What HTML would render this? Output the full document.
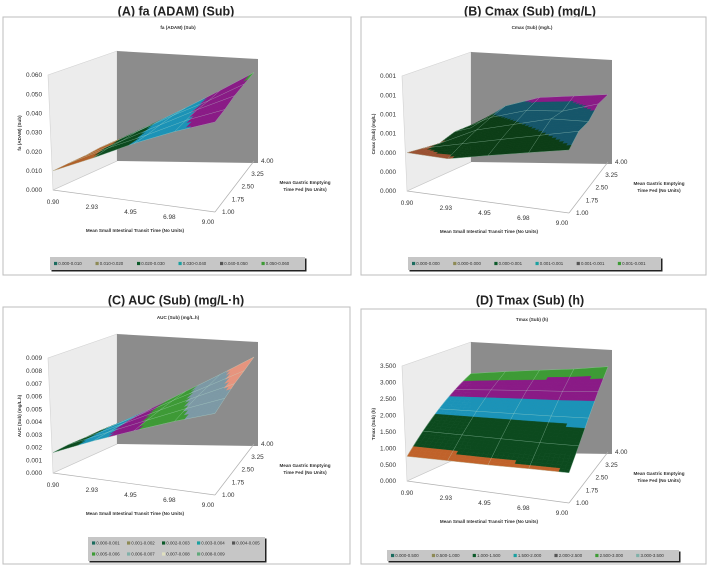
<!DOCTYPE html>
<html><head><meta charset="utf-8"><style>
html,body{margin:0;padding:0;background:#fff;}
svg{display:block;font-family:"Liberation Sans",sans-serif;}
</style></head><body>
<svg id="root" width="709" height="568" viewBox="0 0 709 568" xmlns="http://www.w3.org/2000/svg"></svg>
<script>
const xCats=[0.9,2.93,4.95,6.98,9.0];
const yCats=[1.00,1.75,2.50,3.25,4.00];
const xLabels=['0.90','2.93','4.95','6.98','9.00'];
const yLabels=['1.00','1.75','2.50','3.25','4.00'];
// rows by gastric emptying time (1.00 .. 4.00), columns by SITT
const faValues=[
 [0.010,0.020,0.031,0.041,0.050],
 [0.011,0.022,0.032,0.043,0.052],
 [0.012,0.023,0.034,0.045,0.055],
 [0.014,0.025,0.036,0.046,0.057],
 [0.015,0.026,0.037,0.048,0.059]];
const cmaxValues=[
 [0.0004,0.0004,0.0005,0.0006,0.0007],
 [0.0004,0.0005,0.0006,0.0007,0.0008],
 [0.0004,0.0006,0.0007,0.0008,0.0008],
 [0.0005,0.0007,0.0008,0.0008,0.0009],
 [0.0005,0.0008,0.0009,0.0009,0.0009]];
const aucValues=[
 [0.0016,0.0030,0.0043,0.0056,0.0068],
 [0.0018,0.0032,0.0046,0.0060,0.0073],
 [0.0019,0.0034,0.0049,0.0064,0.0078],
 [0.0021,0.0036,0.0052,0.0067,0.0082],
 [0.0022,0.0038,0.0055,0.0071,0.0087]];
const tmaxValues=[
 [0.75,0.80,0.85,0.92,0.98],
 [1.40,1.42,1.44,1.46,1.50],
 [2.05,2.06,2.07,2.08,2.10],
 [2.70,2.71,2.71,2.70,2.72],
 [3.35,3.35,3.33,3.30,3.32]];
const faTicks=['0.000','0.010','0.020','0.030','0.040','0.050','0.060'];
const cmaxTicks=['0.000','0.000','0.000','0.001','0.001','0.001','0.001'];
const aucTicks=['0.000','0.001','0.002','0.003','0.004','0.005','0.006','0.007','0.008','0.009'];
const tmaxTicks=['0.000','0.500','1.000','1.500','2.000','2.500','3.000','3.500'];
const faLegend=['0.000-0.010','0.010-0.020','0.020-0.030','0.030-0.040','0.040-0.050','0.050-0.060'];
const cmaxLegend=['0.000-0.000','0.000-0.000','0.000-0.001','0.001-0.001','0.001-0.001','0.001-0.001'];
const aucLegend=['0.000-0.001','0.001-0.002','0.002-0.003','0.003-0.004','0.004-0.005','0.005-0.006','0.006-0.007','0.007-0.008','0.008-0.009'];
const tmaxLegend=['0.000-0.500','0.500-1.000','1.000-1.500','1.500-2.000','2.000-2.500','2.500-3.000','3.000-3.500'];

const NS='http://www.w3.org/2000/svg';
const root=document.getElementById('root');
function el(tag,attrs,parent,text){const e=document.createElementNS(NS,tag);for(const k in attrs)e.setAttribute(k,attrs[k]);if(text!==undefined)e.textContent=text;(parent||root).appendChild(e);return e;}

const panels=[
 {key:'a',ox:0,oy:0,title:'(A) fa (ADAM) (Sub)',inner:'fa (ADAM) (Sub)',zt:'fa (ADAM) (Sub)',titleY:12,frame:[3,17,348,258],innerY:29,dy:0,
  vals:faValues,ticks:faTicks,zmax:0.06,
  thr:[0.0105,0.02,0.03,0.044,0.057],
  colors:['#1b5e55','#b0602a','#0c4a1e','#1b93b8','#8a1a86','#3d9b35'],
  legend:faLegend,legSw:['#1b6b5e','#8d8a55','#0c5a2a','#1aa0a0','#555555','#3d9b35'],leg:[50,257,255,13],legRows:1},
 {key:'b',ox:354,oy:0,title:'(B) Cmax (Sub) (mg/L)',inner:'Cmax (Sub) (mg/L)',zt:'Cmax (Sub) (mg/L)',titleY:12,frame:[7,17,345,258],innerY:29,dy:1,
  vals:cmaxValues,ticks:cmaxTicks,zmax:0.0012,
  thr:[0.00042,0.00072,0.00086],
  colors:['#9a5030','#0c3d16','#15566a','#8a1a86'],
  legend:cmaxLegend,legSw:['#1b6b5e','#8d8a55','#0c5a2a','#1aa0a0','#555555','#3d9b35'],leg:[54,257,253,13],legRows:1},
 {key:'c',ox:0,oy:284,title:'(C) AUC (Sub) (mg/L·h)',inner:'AUC (Sub) (mg/L.h)',zt:'AUC (Sub) (mg/L.h)',titleY:17,frame:[3,23,347,257],innerY:35,dy:-1,
  vals:aucValues,ticks:aucTicks,zmax:0.009,
  thr:[0.0025,0.0035,0.0045,0.006,0.0075],
  colors:['#0c4a1e','#1b93b8','#8a1a86','#3d9b35','#7d9aa6','#e8957e'],
  legend:aucLegend,legSw:['#1b6b5e','#8d8a55','#0c5a2a','#1aa0a0','#555555','#3d9b35','#7fb0a8','#e0e0c0','#5fa87a'],leg:[88,253,177,24],legRows:2},
 {key:'d',ox:354,oy:284,title:'(D) Tmax (Sub) (h)',inner:'Tmax (Sub) (h)',zt:'Tmax (Sub) (h)',titleY:17,frame:[7,25,345,255],innerY:37,dy:7,
  vals:tmaxValues,ticks:tmaxTicks,zmax:3.5,
  thr:[1.0,1.9,2.45,3.05],
  colors:['#c0622a','#0c4a1e','#1b93b8','#8a1a86','#3d9b35'],
  legend:tmaxLegend,legSw:['#1b6b5e','#8d8a55','#0c5a2a','#1aa0a0','#555555','#3d9b35','#7fb0a8'],leg:[33,266,292,11],legRows:1}
];

const FL=[53,190],FR=[215,212],BL=[117,161],BR=[254,161];
const sFL=115,sFR=108,sBL=82,sBR=90;
function base(u,v){return [(1-u)*(1-v)*FL[0]+u*(1-v)*FR[0]+(1-u)*v*BL[0]+u*v*BR[0],(1-u)*(1-v)*FL[1]+u*(1-v)*FR[1]+(1-u)*v*BL[1]+u*v*BR[1]];}
function scl(u,v){return (1-u)*(1-v)*sFL+u*(1-v)*sFR+(1-u)*v*sBL+u*v*sBR;}
function uOf(x){return (x-xCats[0])/(xCats[xCats.length-1]-xCats[0]);}
function vOf(y){return (y-yCats[0])/(yCats[yCats.length-1]-yCats[0]);}
function proj(p,u,v,z){const b=base(u,v);return [b[0],b[1]-z/p.zmax*scl(u,v)+p.dy];}

panels.forEach(p=>{
 const g=el('g',{transform:`translate(${p.ox},${p.oy})`});
 
 
 const t=el('text',{x:176,y:p.titleY,'text-anchor':'middle','font-size':'12.5','font-weight':'bold',fill:'#222','dominant-baseline':'middle'},g,p.title);
 
 const fr=el('rect',{x:p.frame[0],y:p.frame[1],width:p.frame[2],height:p.frame[3],fill:'#fff',stroke:'#bdbdbd','stroke-width':1},g);
 
 const it=el('text',{x:178,y:p.innerY,'text-anchor':'middle','font-size':'4.6','font-weight':'bold',fill:'#333'},g,p.inner);
 
 const d=p.dy;
 const lw=el('polygon',{points:`53,${190+d} 48,${75+d} 117,${51+d} 117,${161+d}`,fill:'#ececec',stroke:'#d2d2d2','stroke-width':0.6},g);
 
 const bw=el('polygon',{points:`117,${51+d} 258,${59+d} 258,${163+d} 117,${161+d}`,fill:'#8c8c8c'},g);
 
 el('line',{x1:FL[0],y1:FL[1]+d,x2:FR[0],y2:FR[1]+d,stroke:'#b0b0b0','stroke-width':0.7},g);
 el('line',{x1:FR[0],y1:FR[1]+d,x2:BR[0],y2:BR[1]+d,stroke:'#b0b0b0','stroke-width':0.7},g);
 el('line',{x1:FL[0],y1:FL[1]+d,x2:BL[0],y2:BL[1]+d,stroke:'#c8c8c8','stroke-width':0.6},g);
 const nT=p.ticks.length-1;
 p.ticks.forEach((lab,i)=>{
  const y=FL[1]+d-(i/nT)*sFL;
  const tt=el('text',{x:42,y:y+2.2,'text-anchor':'end','font-size':'6.4',fill:'#333'},g,lab);
  
 });
 xLabels.forEach((lab,i)=>{
  const u=uOf(xCats[i]);const b=base(u,0);
  const tt=el('text',{x:b[0]-7*u,y:b[1]+d+14-2*u,'text-anchor':'middle','font-size':'6.4',fill:'#333'},g,lab);
  
 });
 yLabels.forEach((lab,i)=>{
  const v=vOf(yCats[i]);const b=base(1,v);
  const tt=el('text',{x:b[0]+7,y:b[1]+d+2,'font-size':'6.4',fill:'#333'},g,lab);
  
 });
 const xt=el('text',{x:135,y:232+d,'text-anchor':'middle','font-size':'4.6','font-weight':'bold',fill:'#333'},g,'Mean Small Intestinal Transit Time  (No Units)');
 
 const yt1=el('text',{x:305,y:184+d,'text-anchor':'middle','font-size':'4.6','font-weight':'bold',fill:'#333'},g,'Mean Gastric Emptying');
 
 const yt2=el('text',{x:305,y:191+d,'text-anchor':'middle','font-size':'4.6','font-weight':'bold',fill:'#333'},g,'Time Fed (No Units)');
 
 const zt=el('text',{x:0,y:0,'text-anchor':'middle','font-size':'4.6','font-weight':'bold',fill:'#333',transform:`translate(21,${133+d}) rotate(-90)`},g,p.zt);
 
 const sg=el('g',{},g);
 
 const N=8,V=p.vals;
 function zAt(ci,ri,a,b){return (1-a)*(1-b)*V[ri][ci]+a*(1-b)*V[ri][ci+1]+(1-a)*b*V[ri+1][ci]+a*b*V[ri+1][ci+1];}
 function colorFor(z){let i=0;while(i<p.thr.length&&z>=p.thr[i])i++;return p.colors[i];}
 for(let ri=yCats.length-2;ri>=0;ri--){
  for(let ci=0;ci<xCats.length-1;ci++){
   const u0=uOf(xCats[ci]),u1=uOf(xCats[ci+1]),v0=vOf(yCats[ri]),v1=vOf(yCats[ri+1]);
   for(let sb=N-1;sb>=0;sb--)for(let sa=0;sa<N;sa++){
    const corners=[[sa/N,sb/N],[(sa+1)/N,sb/N],[(sa+1)/N,(sb+1)/N],[sa/N,(sb+1)/N]];
    let zs=0;
    const pts=corners.map(c=>{const z=zAt(ci,ri,c[0],c[1]);zs+=z;return proj(p,u0+(u1-u0)*c[0],v0+(v1-v0)*c[1],z);});
    const c=colorFor(zs/4);
    const q=el('polygon',{points:pts.map(q=>q[0].toFixed(2)+','+q[1].toFixed(2)).join(' '),fill:c,stroke:c,'stroke-width':0.35},sg);
    
    
   }
  }
 }
 for(let ri=0;ri<yCats.length;ri++){
  const pts=xCats.map((x,ci)=>proj(p,uOf(x),vOf(yCats[ri]),V[ri][ci]));
  const l=el('polyline',{points:pts.map(q=>q[0].toFixed(2)+','+q[1].toFixed(2)).join(' '),fill:'none',stroke:'rgba(190,230,210,0.5)','stroke-width':0.5},sg);
  
 }
 for(let ci=0;ci<xCats.length;ci++){
  const pts=yCats.map((y,ri)=>proj(p,uOf(xCats[ci]),vOf(y),V[ri][ci]));
  const l=el('polyline',{points:pts.map(q=>q[0].toFixed(2)+','+q[1].toFixed(2)).join(' '),fill:'none',stroke:'rgba(190,230,210,0.5)','stroke-width':0.5},sg);
  
 }
 const L=p.leg;
 const lg=el('g',{},g);
 
 el('rect',{x:L[0]+1.5,y:L[1]+1.5,width:L[2],height:L[3],fill:'#222'},lg);
 el('rect',{x:L[0],y:L[1],width:L[2],height:L[3],fill:'#c6c6c6'},lg);
 const perRow=p.legRows===2?5:p.legend.length;
 const step=p.legRows===2?35:(L[2]-6)/p.legend.length;
 p.legend.forEach((lab,i)=>{
  const r=Math.floor(i/perRow),k=i%perRow;
  const x=L[0]+4+k*step,y=L[1]+(p.legRows===2?6+r*11:L[3]/2);
  const sw=el('rect',{x:x,y:y-1.6,width:3.2,height:3.2,fill:p.legSw[i]},lg);
  
  const tx=el('text',{x:x+4.3,y:y+1.6,'font-size':'4.4',fill:'#333'},lg,lab);
  
 });
});
</script>
</body></html>
